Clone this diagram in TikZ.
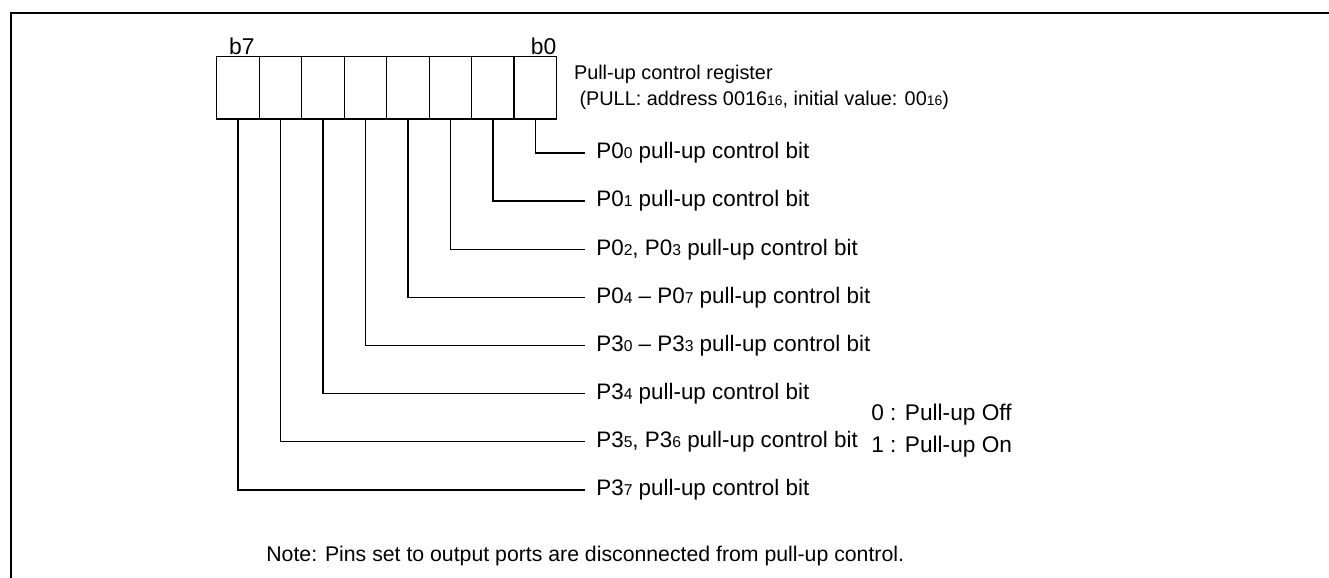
\documentclass[tikz,border=0pt]{standalone}
\usepackage{fontspec}
\setmainfont{Liberation Sans}
\usepackage{tikz}
\usetikzlibrary{positioning}

\newcommand{\lo}[1]{\scalebox{0.7}{#1}}

\begin{document}
\begin{tikzpicture}[x=0.02cm, y=-0.02cm,
        cell/.style = {draw, line width=0.8pt, minimum width=0.85cm, minimum height=1.246cm, inner sep=0pt, outer sep=0pt},
        bitlbl/.style = {inner sep=0pt, font=\fontsize{13pt}{15pt}\selectfont},
        ctrl/.style = {anchor=west, inner xsep=0.22cm, inner ysep=0pt, font=\fontsize{12.75pt}{15pt}\selectfont},
        wire/.style = {line width=0.8pt},
        frame/.style = {line width=1.3pt}]
    \useasboundingbox (0,0) rectangle (1329,578);
    \draw[frame] (11,578) |- (1329,12.7);

    % register cells, b7 ... b0
    \node (c7) [cell] at (238,87.85) {};
    \node (c6) [cell, right=0pt of c7] {};
    \node (c5) [cell, right=0pt of c6] {};
    \node (c4) [cell, right=0pt of c5] {};
    \node (c3) [cell, right=0pt of c4] {};
    \node (c2) [cell, right=0pt of c3] {};
    \node (c1) [cell, right=0pt of c2] {};
    \node (c0) [cell, right=0pt of c1] {};

    \node (b7) [bitlbl, anchor=base west] at ([xshift=0.24cm, yshift=0.05cm]c7.north west) {b7};
    \node (b0) [bitlbl, anchor=base east] at ([yshift=0.05cm]c0.north east) {b0};

    \node (title) [right=0.34cm of c0, inner sep=0pt, align=left, font=\fontsize{11.3pt}{14.8pt}\selectfont]
        {Pull-up control register\\\ (PULL: address 0016\lo{16}, initial value: 00\lo{16})};

    % bit names
    \node (l0) [ctrl] at (585,153) {P0\lo{0} pull-up control bit};
    \node (l1) [ctrl, below=0.9628cm of l0.west, anchor=west] {P0\lo{1} pull-up control bit};
    \node (l2) [ctrl, below=0.9628cm of l1.west, anchor=west] {P0\lo{2}, P0\lo{3} pull-up control bit};
    \node (l3) [ctrl, below=0.9628cm of l2.west, anchor=west] {P0\lo{4} -- P0\lo{7} pull-up control bit};
    \node (l4) [ctrl, below=0.9628cm of l3.west, anchor=west] {P3\lo{0} -- P3\lo{3} pull-up control bit};
    \node (l5) [ctrl, below=0.9628cm of l4.west, anchor=west] {P3\lo{4} pull-up control bit};
    \node (l6) [ctrl, below=0.9628cm of l5.west, anchor=west] {P3\lo{5}, P3\lo{6} pull-up control bit};
    \node (l7) [ctrl, below=0.9628cm of l6.west, anchor=west] {P3\lo{7} pull-up control bit};

    \draw[wire]
        (c0.south) |- (l0.west)
        (c1.south) |- (l1.west)
        (c2.south) |- (l2.west)
        (c3.south) |- (l3.west)
        (c4.south) |- (l4.west)
        (c5.south) |- (l5.west)
        (c6.south) |- (l6.west)
        (c7.south) |- (l7.west);

    \node (legend) [anchor=west, inner sep=0pt, align=left, font=\fontsize{12.9pt}{18.2pt}\selectfont] at (871,431)
        {0 : Pull-up Off\\1 : Pull-up On};
    \node (note) [anchor=west, inner sep=0pt, font=\fontsize{12.1pt}{14pt}\selectfont] at (266,556)
        {Note: Pins set to output ports are disconnected from pull-up control.};
\end{tikzpicture}
\end{document}
